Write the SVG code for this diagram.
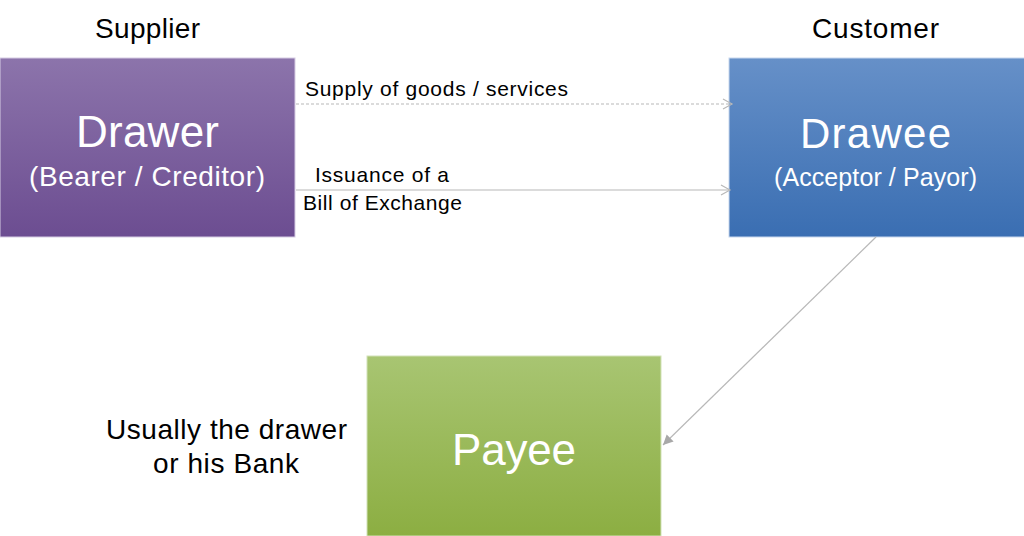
<svg xmlns="http://www.w3.org/2000/svg" width="1024" height="536" viewBox="0 0 1024 536">
<style>
.lbl{font-family:"Liberation Sans",Arial,sans-serif;fill:#000}
.w{font-family:"Liberation Sans",Arial,sans-serif;fill:#fff;text-anchor:middle}
.box{stroke-width:1}
.con{fill:none;stroke:#b8b8b8;stroke-width:1.2}
</style>
<defs>
<linearGradient id="gP" x1="0" y1="0" x2="0" y2="1"><stop offset="0" stop-color="#8C74AB"/><stop offset="1" stop-color="#6C4D91"/></linearGradient>
<linearGradient id="gB" x1="0" y1="0" x2="0" y2="1"><stop offset="0" stop-color="#6690C8"/><stop offset="1" stop-color="#3A6EB2"/></linearGradient>
<linearGradient id="gG" x1="0" y1="0" x2="0" y2="1"><stop offset="0" stop-color="#A8C572"/><stop offset="1" stop-color="#8CAE42"/></linearGradient>
<marker id="open" markerWidth="12" markerHeight="12" refX="10" refY="6" orient="auto" markerUnits="userSpaceOnUse"><path d="M1,1 L10,6 L1,11" fill="none" stroke="#b8b8b8" stroke-width="1.2"/></marker>
<marker id="fill" markerWidth="12" markerHeight="12" refX="10" refY="6" orient="auto" markerUnits="userSpaceOnUse"><path d="M0,1 L10,6 L0,11 Z" fill="#a8a8a8"/></marker>
</defs>
<text class="lbl" x="147.5" y="38" font-size="28" text-anchor="middle" textLength="105" lengthAdjust="spacing">Supplier</text>
<text class="lbl" x="875.5" y="38" font-size="28" text-anchor="middle" textLength="127" lengthAdjust="spacing">Customer</text>
<g id="drawer">
<rect class="box" x="0" y="58" width="295" height="179" fill="url(#gP)" stroke="#d6cce3"/>
<text class="w" x="147.5" y="147" font-size="44" textLength="143" lengthAdjust="spacing">Drawer</text>
<text class="w" x="147" y="186" font-size="28" textLength="236" lengthAdjust="spacing">(Bearer / Creditor)</text>
</g>
<g id="drawee">
<rect class="box" x="729" y="58" width="296" height="179" fill="url(#gB)" stroke="#c8d8ee"/>
<text class="w" x="875.5" y="148" font-size="42" textLength="151" lengthAdjust="spacing">Drawee</text>
<text class="w" x="875.5" y="186" font-size="25" textLength="203" lengthAdjust="spacing">(Acceptor / Payor)</text>
</g>
<g id="payee">
<rect class="box" x="367" y="356" width="294" height="180" fill="url(#gG)" stroke="#d2e2b8"/>
<text class="w" x="514" y="465" font-size="44" textLength="124" lengthAdjust="spacing">Payee</text>
</g>
<text class="lbl" x="226.5" y="439" font-size="28" text-anchor="middle" textLength="241" lengthAdjust="spacing">Usually the drawer</text>
<text class="lbl" x="226" y="473" font-size="28" text-anchor="middle" textLength="146" lengthAdjust="spacing">or his Bank</text>
<g id="connectors">
<line class="con" x1="296" y1="104" x2="732" y2="104" stroke-dasharray="3,2" marker-end="url(#open)"/>
<line class="con" x1="296" y1="190" x2="730" y2="190" marker-end="url(#open)"/>
<line class="con" x1="876" y1="237" x2="663" y2="445" marker-end="url(#fill)"/>
<text class="lbl" x="305" y="96" font-size="21" textLength="263" lengthAdjust="spacing">Supply of goods / services</text>
<text class="lbl" x="315" y="182" font-size="21" textLength="134" lengthAdjust="spacing">Issuance of a</text>
<text class="lbl" x="303" y="210" font-size="21" textLength="159" lengthAdjust="spacing">Bill of Exchange</text>
</g>
</svg>
